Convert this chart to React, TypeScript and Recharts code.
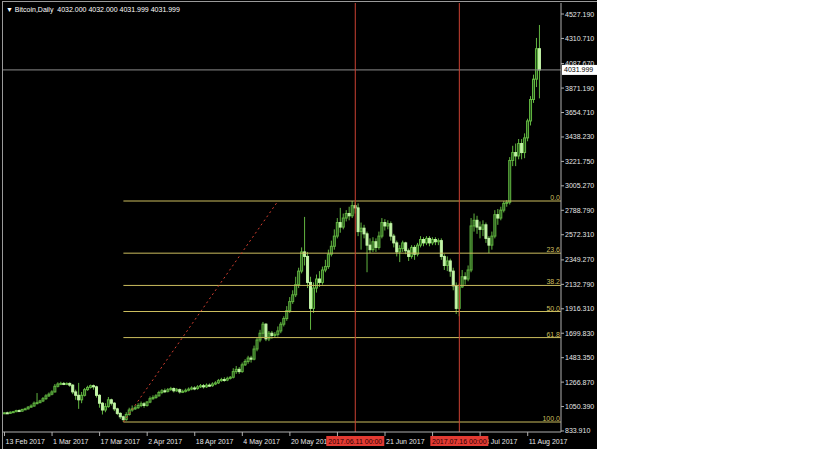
import React from 'react';
import { ComposedChart, Bar, XAxis, YAxis, ReferenceLine } from 'recharts';

// daily candles [open, high, low, close]
const ohlc: [number, number, number, number][] = [
  [990, 1000, 985, 995], [995, 1005, 985, 990], [990, 1008, 985, 1000], [1000, 1012, 995, 1005],
  [1005, 1022, 1000, 1015], [1015, 1025, 1005, 1010], [1010, 1030, 1005, 1025], [1025, 1040, 1020, 1030],
  [1030, 1055, 1025, 1045], [1045, 1070, 1040, 1055], [1055, 1095, 1050, 1080], [1080, 1170, 1070, 1085],
  [1085, 1110, 1080, 1100], [1100, 1135, 1090, 1120], [1120, 1160, 1110, 1145], [1145, 1175, 1135, 1160],
  [1160, 1195, 1150, 1180], [1180, 1250, 1175, 1230], [1230, 1265, 1220, 1250], [1250, 1270, 1240, 1255],
  [1255, 1268, 1240, 1250], [1250, 1265, 1240, 1255], [1255, 1265, 1225, 1240], [1240, 1250, 1160, 1180],
  [1180, 1200, 1110, 1150], [1150, 1260, 1030, 1110], [1110, 1180, 1080, 1150], [1150, 1215, 1140, 1200],
  [1200, 1235, 1190, 1220], [1220, 1245, 1210, 1235], [1235, 1245, 1200, 1225], [1225, 1235, 1130, 1150],
  [1150, 1160, 1040, 1080], [1080, 1090, 980, 1020], [1020, 1080, 1000, 1050], [1050, 1135, 1040, 1110],
  [1110, 1120, 1060, 1080], [1080, 1090, 1010, 1030], [1030, 1040, 975, 990], [990, 1000, 940, 960],
  [960, 970, 914, 935], [935, 1000, 925, 980], [980, 1040, 970, 1020], [1020, 1060, 1005, 1030],
  [1030, 1060, 1020, 1040], [1040, 1080, 1030, 1060], [1060, 1095, 1045, 1075], [1075, 1090, 1040, 1060],
  [1060, 1100, 1050, 1090], [1090, 1140, 1080, 1120], [1120, 1150, 1110, 1130], [1130, 1160, 1120, 1145],
  [1145, 1190, 1140, 1175], [1175, 1205, 1160, 1190], [1190, 1210, 1170, 1185], [1185, 1215, 1175, 1200],
  [1200, 1225, 1190, 1210], [1210, 1220, 1175, 1190], [1190, 1215, 1180, 1200], [1200, 1210, 1165, 1180],
  [1180, 1200, 1170, 1185], [1185, 1210, 1175, 1195], [1195, 1220, 1185, 1205], [1205, 1230, 1195, 1215],
  [1215, 1230, 1195, 1210], [1210, 1240, 1200, 1225], [1225, 1250, 1215, 1235], [1235, 1250, 1210, 1225],
  [1225, 1255, 1215, 1240], [1240, 1255, 1225, 1235], [1235, 1265, 1225, 1250], [1250, 1275, 1240, 1260],
  [1260, 1295, 1250, 1280], [1280, 1305, 1270, 1290], [1290, 1310, 1270, 1285], [1285, 1315, 1275, 1300],
  [1300, 1320, 1290, 1310], [1310, 1390, 1300, 1360], [1360, 1410, 1340, 1380], [1380, 1400, 1340, 1360],
  [1360, 1440, 1350, 1420], [1420, 1470, 1410, 1450], [1450, 1500, 1430, 1480], [1480, 1500, 1440, 1470],
  [1470, 1590, 1460, 1560], [1560, 1660, 1540, 1640], [1640, 1730, 1620, 1700], [1700, 1800, 1660, 1780],
  [1780, 1790, 1630, 1650], [1650, 1720, 1630, 1700], [1700, 1720, 1650, 1680], [1680, 1710, 1660, 1690],
  [1690, 1760, 1670, 1720], [1720, 1800, 1700, 1780], [1780, 1850, 1760, 1830], [1830, 1940, 1810, 1900],
  [1900, 2020, 1880, 1980], [1980, 2080, 1960, 2040], [2040, 2200, 2020, 2130], [2130, 2280, 2100, 2250],
  [2250, 2460, 2230, 2420], [2420, 2730, 2300, 2380], [2380, 2420, 2100, 2150], [2150, 2200, 1730, 1920],
  [1920, 2150, 1880, 2100], [2100, 2220, 2060, 2180], [2180, 2250, 2110, 2150], [2150, 2290, 2130, 2260],
  [2260, 2350, 2240, 2290], [2290, 2440, 2270, 2400], [2400, 2520, 2380, 2470], [2470, 2620, 2440, 2560],
  [2560, 2720, 2540, 2680], [2680, 2810, 2590, 2640], [2640, 2760, 2620, 2720], [2720, 2790, 2690, 2760],
  [2760, 2820, 2700, 2740], [2740, 2871, 2720, 2830], [2830, 2860, 2760, 2810], [2810, 2850, 2560, 2600],
  [2600, 2680, 2440, 2630], [2630, 2660, 2540, 2580], [2580, 2600, 2240, 2480], [2480, 2540, 2410, 2440],
  [2440, 2550, 2420, 2510], [2510, 2540, 2420, 2460], [2460, 2600, 2440, 2560], [2560, 2720, 2540, 2680],
  [2680, 2710, 2610, 2650], [2650, 2700, 2620, 2670], [2670, 2690, 2520, 2560], [2560, 2580, 2460, 2500],
  [2500, 2520, 2380, 2420], [2420, 2480, 2330, 2450], [2450, 2520, 2420, 2500], [2500, 2510, 2400, 2430],
  [2430, 2450, 2340, 2380], [2380, 2480, 2360, 2460], [2460, 2480, 2350, 2400], [2400, 2500, 2380, 2480],
  [2480, 2560, 2460, 2530], [2530, 2550, 2470, 2500], [2500, 2560, 2480, 2540], [2540, 2560, 2470, 2500],
  [2500, 2550, 2480, 2530], [2530, 2550, 2480, 2510], [2510, 2540, 2480, 2520], [2520, 2540, 2350, 2380],
  [2380, 2400, 2260, 2300], [2300, 2380, 2250, 2340], [2340, 2360, 2200, 2250], [2250, 2280, 2080, 2120],
  [2120, 2150, 1870, 1920], [1920, 2140, 1850, 2110], [2110, 2260, 2100, 2200], [2200, 2240, 2130, 2180],
  [2180, 2300, 2160, 2260], [2260, 2720, 2240, 2650], [2650, 2760, 2600, 2700], [2700, 2740, 2580, 2640],
  [2640, 2690, 2540, 2620], [2620, 2700, 2560, 2660], [2660, 2680, 2500, 2540], [2540, 2560, 2410, 2480],
  [2480, 2600, 2440, 2560], [2560, 2790, 2540, 2750], [2750, 2800, 2660, 2720], [2720, 2820, 2700, 2790],
  [2790, 2870, 2770, 2850], [2850, 2880, 2820, 2860], [2860, 3260, 2840, 3230], [3230, 3360, 3180, 3300],
  [3300, 3380, 3180, 3270], [3270, 3420, 3240, 3380], [3380, 3420, 3240, 3300], [3300, 3470, 3250, 3430],
  [3430, 3600, 3400, 3580], [3580, 3800, 3540, 3770], [3770, 3990, 3740, 3950], [3950, 4315, 3880, 4220],
  [4220, 4430, 3780, 4032],
];

const xTickIdx = [0, 16, 32, 48, 64, 80, 96, 112, 128, 144, 160, 176];
const xTickLabels = [
  '13 Feb 2017', '1 Mar 2017', '17 Mar 2017', '2 Apr 2017', '18 Apr 2017', '4 May 2017',
  '20 May 2017', '5 Jun 2017', '21 Jun 2017', '7 Jul 2017', '23 Jul 2017', '11 Aug 2017',
];
const yTicks = [
  833.91, 1050.39, 1266.87, 1483.35, 1699.83, 1916.31, 2132.79, 2349.27, 2572.31,
  2788.79, 3005.27, 3221.75, 3438.23, 3654.71, 3871.19, 4087.67, 4310.71, 4527.19,
];

const fibHigh = 2871;
const fibLow = 913.6;
const fibLevels = [0, 23.6, 38.2, 50, 61.8, 100];
const fibStartIdx = 40;
const fibTrendEndIdx = 92;

const vLines = [
  { idx: 118, label: '2017.06.11 00:00' },
  { idx: 153, label: '2017.07.16 00:00' },
];
const lastPrice = 4031.999;

const data = ohlc.map(([o, h, l, c], i) => ({ i, o, h, l, c, range: [l, h] }));

const FONT = '"Liberation Sans", Arial, sans-serif';
const WICK = '#62b541';
const BULL_FILL = '#23501a';
const BEAR_FILL = '#c2f4a6';
const FIB = '#cbbd5e';
const AXIS = '#b0b0b0';
const TEXT = '#e6e6e6';

function Candle(props: any) {
  const { x, y, width, height, payload } = props;
  if (!payload) return null;
  const top = Math.min(y, y + height);
  const bottom = Math.max(y, y + height);
  const span = payload.h - payload.l || 1;
  const k = (bottom - top) / span;
  const yo = top + (payload.h - payload.o) * k;
  const yc = top + (payload.h - payload.c) * k;
  const cx = x + width / 2;
  const bull = payload.c >= payload.o;
  const bTop = Math.min(yo, yc);
  const bH = Math.max(Math.abs(yc - yo), 1);
  return (
    <g>
      <line x1={cx} x2={cx} y1={top} y2={bottom} stroke={WICK} strokeWidth={1} />
      <rect
        x={cx - 1}
        y={bTop}
        width={2}
        height={bH}
        fill={bull ? BULL_FILL : BEAR_FILL}
        stroke={bull ? WICK : BEAR_FILL}
        strokeWidth={1}
      />
    </g>
  );
}

// time-scale label drawn as a reference-line label so the date tags can sit above it
function XTickLabel(props: any) {
  const { viewBox, text } = props;
  if (!viewBox) return null;
  const x = viewBox.x;
  const y = viewBox.y + viewBox.height;
  return (
    <g>
      <line x1={x} x2={x} y1={y} y2={y + 4} stroke={AXIS} />
      <text x={x + 1} y={y + 11.5} fill={TEXT} fontSize={7} fontFamily={FONT}>
        {text}
      </text>
    </g>
  );
}

function YTick(props: any) {
  const { x, y, payload } = props;
  return (
    <g>
      <line x1={x - 4} x2={x - 1} y1={y} y2={y} stroke={AXIS} />
      <text x={x} y={y + 2.5} fill={TEXT} fontSize={7} fontFamily={FONT}>
        {Number(payload.value).toFixed(3)}
      </text>
    </g>
  );
}

function PriceTag(props: any) {
  const { viewBox } = props;
  if (!viewBox) return null;
  const x = viewBox.x + viewBox.width + 1;
  return (
    <g>
      <rect x={x} y={viewBox.y - 5} width={35} height={10} fill="#ffffff" />
      <text x={x + 2} y={viewBox.y + 2.5} fill="#000" fontSize={7} fontFamily={FONT}>
        {lastPrice.toFixed(3)}
      </text>
    </g>
  );
}

function DateTag(props: any) {
  const { viewBox, text } = props;
  if (!viewBox) return null;
  const cx = viewBox.x;
  const y = viewBox.y + viewBox.height + 4;
  return (
    <g>
      <rect x={cx - 29} y={y} width={58} height={10} fill="#e23b33" />
      <text x={cx} y={y + 7.5} fill="#2a0000" fontSize={7} fontFamily={FONT} textAnchor="middle">
        {text}
      </text>
    </g>
  );
}

export default function App() {
  const xMax = 187.2;
  return (
    <div style={{ position: 'absolute', left: 0, top: 0, width: 833, height: 452, background: '#fff' }}>
      <div style={{ position: 'absolute', left: 0, top: 0, width: 597, height: 449, background: '#000' }}>
        <ComposedChart
          width={597}
          height={449}
          data={data}
          margin={{ top: 3, left: 3, right: 0, bottom: 0 }}
        >
          <XAxis
            dataKey="i"
            type="number"
            domain={[-0.5, xMax]}
            allowDataOverflow
            ticks={xTickIdx}
            height={17}
            tick={false}
            tickLine={false}
            axisLine={{ stroke: AXIS }}
          />
          <YAxis
            orientation="right"
            type="number"
            width={36}
            domain={[825.05, 4624.7]}
            allowDataOverflow
            ticks={yTicks}
            interval={0}
            tickSize={3}
            tickMargin={1}
            tickLine={false}
            axisLine={{ stroke: AXIS }}
            tick={<YTick />}
          />
          <Bar dataKey="range" barSize={3} shape={<Candle />} isAnimationActive={false} />
          {fibLevels.map((lv) => {
            const v = fibHigh - ((fibHigh - fibLow) * lv) / 100;
            return (
              <ReferenceLine
                key={lv}
                segment={[{ x: fibStartIdx, y: v }, { x: xMax, y: v }]}
                stroke={FIB}
                strokeWidth={1}
                label={{
                  value: lv.toFixed(1),
                  position: 'insideBottomRight',
                  offset: 1,
                  fill: FIB,
                  fontSize: 7,
                  fontFamily: FONT,
                }}
              />
            );
          })}
          <ReferenceLine
            segment={[{ x: fibStartIdx, y: fibLow }, { x: fibTrendEndIdx, y: fibHigh }]}
            stroke="#d23f30"
            strokeDasharray="2 3"
          />
          <ReferenceLine y={lastPrice} stroke="#8c8c8c" label={<PriceTag />} />
          {xTickIdx.map((t, k) => (
            <ReferenceLine key={'t' + t} x={t} stroke="none" label={<XTickLabel text={xTickLabels[k]} />} />
          ))}
          {vLines.map((v) => (
            <ReferenceLine key={v.idx} x={v.idx} stroke="#cc4133" label={<DateTag text={v.label} />} />
          ))}
        </ComposedChart>
        <div style={{ position: 'absolute', left: 2, top: 1, width: 595, height: 1, background: '#9a9a9a' }} />
        <div style={{ position: 'absolute', left: 2, top: 1, width: 1, height: 448, background: '#9a9a9a' }} />
        <div
          style={{
            position: 'absolute',
            left: 6,
            top: 5,
            color: '#ffffff',
            fontFamily: FONT,
            fontSize: 7,
            lineHeight: '9px',
            whiteSpace: 'pre',
          }}
        >
          {'▼ Bitcoin,Daily  4032.000 4032.000 4031.999 4031.999'}
        </div>
      </div>
    </div>
  );
}
